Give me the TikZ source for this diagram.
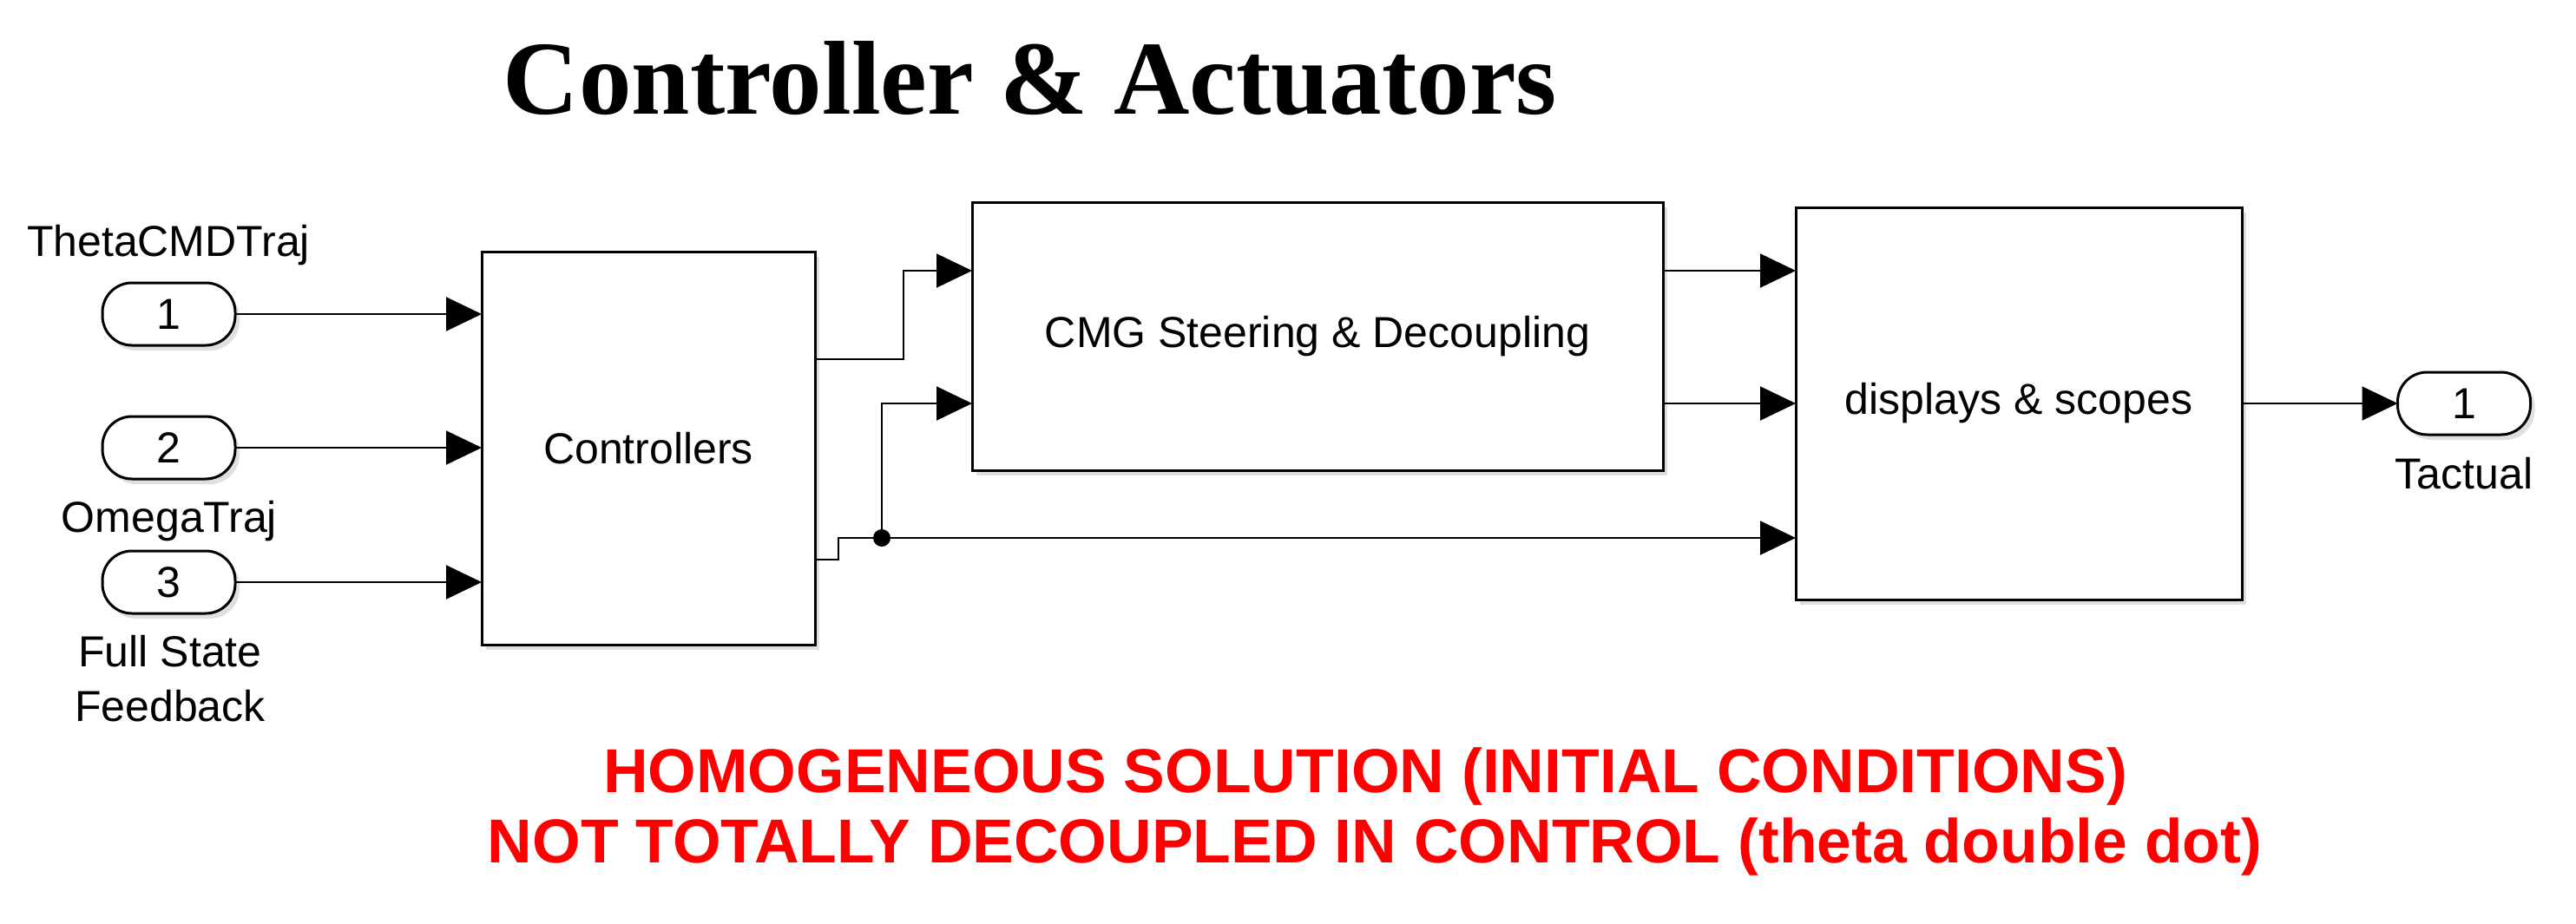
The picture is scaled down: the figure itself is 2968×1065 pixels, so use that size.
\documentclass[tikz,border=0pt]{standalone}
\usepackage{fontspec}
\setmainfont{Liberation Sans}
\newfontfamily\titlefont{Liberation Serif}
\usetikzlibrary{arrows.meta,shadows}
\begin{document}
\begin{tikzpicture}[x=1pt,y=-1pt,
  shd/.style={drop shadow={shadow xshift=5pt,shadow yshift=-6pt,opacity=0.25}},
  blk/.style={draw, line width=3pt, fill=white, inner sep=0pt, outer sep=0pt, shd,
    font=\fontsize{50}{60}\selectfont},
  port/.style={draw, line width=3pt, fill=white, rounded corners=34pt,
    minimum width=153pt, minimum height=72pt, inner sep=0pt, outer sep=0pt, shd,
    font=\fontsize{50}{60}\selectfont},
  sig/.style={line width=2pt, -{Triangle[length=41pt,width=39pt]}},
  wire/.style={line width=2pt},
  lbl/.style={font=\fontsize{50}{63}\selectfont, inner sep=0pt, anchor=base},
  note/.style={text=red, font=\bfseries\fontsize{71.5}{80}\selectfont, inner sep=0pt, anchor=base},
]
\useasboundingbox[fill=white] (0,0) rectangle (2968,1065);

\node[anchor=base, inner sep=0pt, font=\titlefont\bfseries\fontsize{121}{130}\selectfont] (title) at (1187,131) {Controller \& Actuators};

% inports
\node[port] (in1) at (194.5,362) {1};
\node[port] (in2) at (194.5,516) {2};
\node[port] (in3) at (194.5,671) {3};
\node[lbl] (l1) at (194,295) {ThetaCMDTraj};
\node[lbl] (l2) at (195,613) {OmegaTraj};
\node[lbl] (l3a) at (196,768) {Full State};
\node[lbl] (l3b) at (196,831) {Feedback};

% blocks
\node[blk, minimum width=384pt, minimum height=453pt] (ctrl) at (747,516.5) {Controllers};
\node[blk, minimum width=796pt, minimum height=309pt] (cmg) at (1518,387.5) {CMG Steering \& Decoupling};
\node[blk, minimum width=514pt, minimum height=452pt] (disp) at (2326,465) {displays \& scopes};

% outport
\node[port] (out1) at (2839,465) {1};
\node[lbl] (l4) at (2839,563) {Tactual};

% junction
\node[circle, fill, minimum size=20pt, inner sep=0pt] (j) at (1016,620) {};

% connectors
\draw[sig] (in1.east) -- (in1 -| ctrl.west);
\draw[sig] (in2.east) -- (in2 -| ctrl.west);
\draw[sig] (in3.east) -- (in3 -| ctrl.west);
\draw[sig] (ctrl.east |- 0,414) -| (1041,312) -- (cmg.west |- 0,312);
\draw[wire] (ctrl.east |- 0,645) -| (966,620) -- (j.center);
\draw[sig] (j.center) -- (disp.west |- j);
\draw[sig] (j.center) |- (cmg.west |- 0,465);
\draw[sig] (cmg.east |- 0,312) -- (disp.west |- 0,312);
\draw[sig] (cmg.east |- 0,465) -- (disp.west |- 0,465);
\draw[sig] (disp.east |- out1) -- (out1.west);

% notes
\node[note] (n1) at (1573,913) {HOMOGENEOUS SOLUTION (INITIAL CONDITIONS)};
\node[note] (n2) at (1584,994) {NOT TOTALLY DECOUPLED IN CONTROL (theta double dot)};
\end{tikzpicture}
\end{document}
